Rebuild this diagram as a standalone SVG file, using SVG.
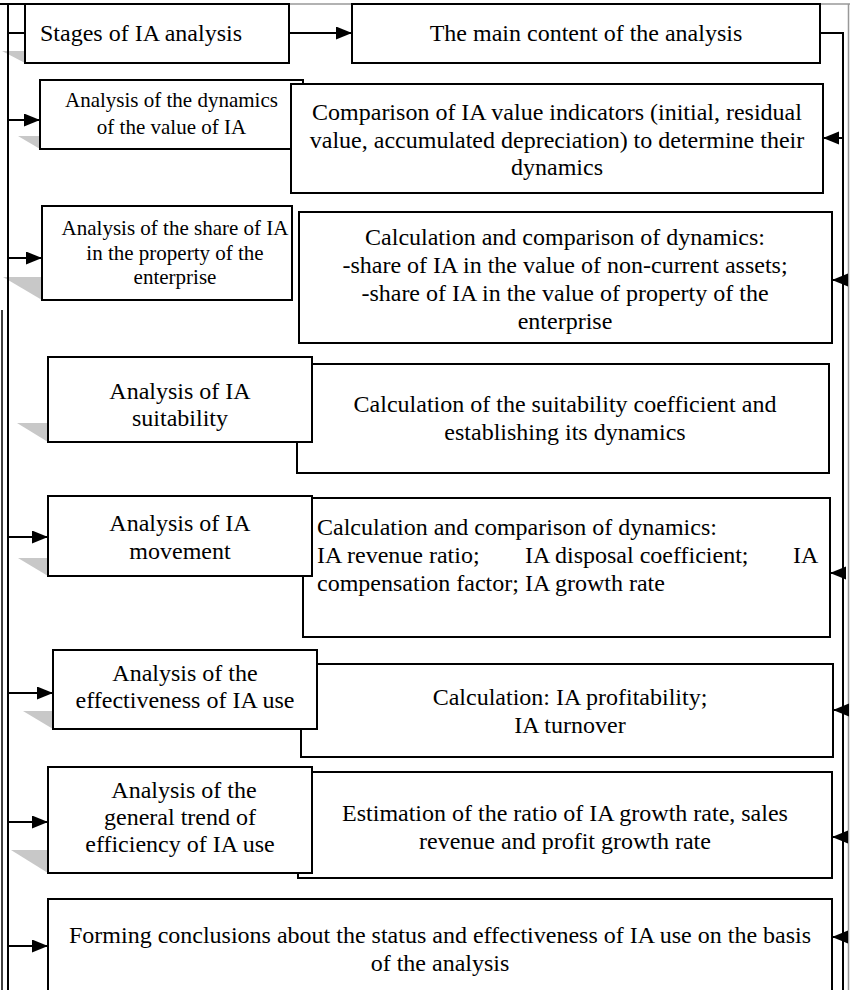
<svg xmlns="http://www.w3.org/2000/svg" width="850" height="990" viewBox="0 0 850 990">
<defs>
<marker id="ah" markerUnits="userSpaceOnUse" markerWidth="17" markerHeight="14" refX="16" refY="6.5" orient="auto">
<path d="M0,0 L16,6.5 L0,13 z" fill="#000"/>
</marker>
<style>
.box{fill:#fff;stroke:#000;stroke-width:2}
.sh{fill:#c8c8c8;stroke:none}
.t{font-family:"Liberation Serif","Times New Roman",serif;font-size:24px;fill:#000;text-anchor:middle}
.s{font-size:21px}
.l{text-anchor:start}
.c{fill:none;stroke:#000;stroke-width:2}
.a{fill:none;stroke:#000;stroke-width:2;marker-end:url(#ah)}
.f{fill:none;stroke:#999;stroke-width:1.5}
</style>
</defs>
<rect width="850" height="990" fill="#fff"/>
<g id="frame">
<line class="f" x1="0" y1="4" x2="850" y2="4"/>
<line class="f" x1="848.5" y1="4" x2="848.5" y2="990"/>
<line x1="2" y1="310" x2="2" y2="990" stroke="#000" stroke-width="1.5"/>
<line x1="0" y1="4" x2="25" y2="4" stroke="#000" stroke-width="2"/>
</g>
<g id="shadows">
<polygon class="sh" points="2,51 25,51 25,63"/>
<polygon class="sh" points="18,136 40,136 40,149"/>
<polygon class="sh" points="3,277 42,277 42,300"/>
<polygon class="sh" points="17,423 48,423 48,442"/>
<polygon class="sh" points="18,558 48,558 48,576"/>
<polygon class="sh" points="23,711 53,711 53,729"/>
<polygon class="sh" points="11,850 48,850 48,873"/>
</g>
<g id="connectors">
<line class="c" x1="8" y1="4" x2="8" y2="990"/>
<line class="c" x1="8" y1="33" x2="25" y2="33"/>
<polyline class="c" points="820,33 843,33 843,990"/>
<line class="a" x1="289" y1="33" x2="352" y2="33"/>
<line class="a" x1="8" y1="120" x2="40" y2="120"/>
<line class="a" x1="8" y1="258" x2="42" y2="258"/>
<line class="a" x1="8" y1="537" x2="48" y2="537"/>
<line class="a" x1="8" y1="693" x2="53" y2="693"/>
<line class="a" x1="8" y1="822" x2="48" y2="822"/>
<line class="a" x1="8" y1="946" x2="48" y2="946"/>
<line class="a" x1="843" y1="138" x2="823" y2="138"/>
<line class="a" x1="843" y1="280" x2="832" y2="280"/>
<line class="a" x1="843" y1="573" x2="830" y2="573"/>
<line class="a" x1="843" y1="710" x2="833" y2="710"/>
<line class="a" x1="843" y1="837" x2="832" y2="837"/>
<line class="a" x1="843" y1="937" x2="832" y2="937"/>
</g>
<g id="stages">
<rect class="box" x="25" y="4" width="264" height="59"/>
<text class="t l" x="40" y="41">Stages of IA analysis</text>
</g>
<g id="content">
<rect class="box" x="352" y="4" width="468" height="59"/>
<text class="t" x="586" y="41">The main content of the analysis</text>
</g>
<g id="s1">
<rect class="box" x="40" y="80" width="263" height="69"/>
<text class="t s" x="171.5" y="107">Analysis of the dynamics</text>
<text class="t s" x="171.5" y="134">of the value of IA</text>
</g>
<g id="c1">
<rect class="box" x="291" y="84" width="532" height="109"/>
<text class="t" x="557" y="120">Comparison of IA value indicators (initial, residual</text>
<text class="t" x="557" y="147.6">value, accumulated depreciation) to determine their</text>
<text class="t" x="557" y="175.2">dynamics</text>
</g>
<g id="c2">
<rect class="box" x="299" y="212" width="533" height="131"/>
<text class="t" x="565" y="245">Calculation and comparison of dynamics:</text>
<text class="t" x="565" y="273">-share of IA in the value of non-current assets;</text>
<text class="t" x="565" y="301">-share of IA in the value of property of the</text>
<text class="t" x="565" y="329">enterprise</text>
</g>
<g id="s2">
<rect class="box" x="42" y="206" width="250" height="94"/>
<text class="t s" x="175" y="235">Analysis of the share of IA</text>
<text class="t s" x="175" y="260">in the property of the</text>
<text class="t s" x="175" y="284">enterprise</text>
</g>
<g id="c3">
<rect class="box" x="297" y="364" width="532" height="109"/>
<text class="t" x="565" y="412">Calculation of the suitability coefficient and</text>
<text class="t" x="565" y="440">establishing its dynamics</text>
</g>
<g id="s3">
<rect class="box" x="48" y="357" width="264" height="85"/>
<text class="t" x="180" y="399">Analysis of IA</text>
<text class="t" x="180" y="426">suitability</text>
</g>
<g id="c4">
<rect class="box" x="303" y="498" width="527" height="139"/>
<text class="t l" x="317" y="535">Calculation and comparison of dynamics:</text>
<text class="t l" y="563"><tspan x="317">IA revenue ratio;</tspan><tspan x="525">IA disposal coefficient;</tspan><tspan x="793">IA</tspan></text>
<text class="t l" x="317" y="591">compensation factor; IA growth rate</text>
</g>
<g id="s4">
<rect class="box" x="48" y="496" width="264" height="80"/>
<text class="t" x="180" y="531">Analysis of IA</text>
<text class="t" x="180" y="559">movement</text>
</g>
<g id="c5">
<rect class="box" x="301" y="664" width="532" height="93"/>
<text class="t" x="570" y="705">Calculation: IA profitability;</text>
<text class="t" x="570" y="733">IA turnover</text>
</g>
<g id="s5">
<rect class="box" x="53" y="650" width="264" height="79"/>
<text class="t" x="185" y="681">Analysis of the</text>
<text class="t" x="185" y="708">effectiveness of IA use</text>
</g>
<g id="c6">
<rect class="box" x="298" y="772" width="534" height="106"/>
<text class="t" x="565" y="821">Estimation of the ratio of IA growth rate, sales</text>
<text class="t" x="565" y="849">revenue and profit growth rate</text>
</g>
<g id="s6">
<rect class="box" x="48" y="767" width="264" height="106"/>
<text class="t" x="184" y="798">Analysis of the</text>
<text class="t" x="180" y="825">general trend of</text>
<text class="t" x="180" y="852">efficiency of IA use</text>
</g>
<g id="conclusion">
<rect class="box" x="48" y="899" width="784" height="100"/>
<text class="t" x="440" y="943">Forming conclusions about the status and effectiveness of IA use on the basis</text>
<text class="t" x="440" y="971">of the analysis</text>
</g>
</svg>
